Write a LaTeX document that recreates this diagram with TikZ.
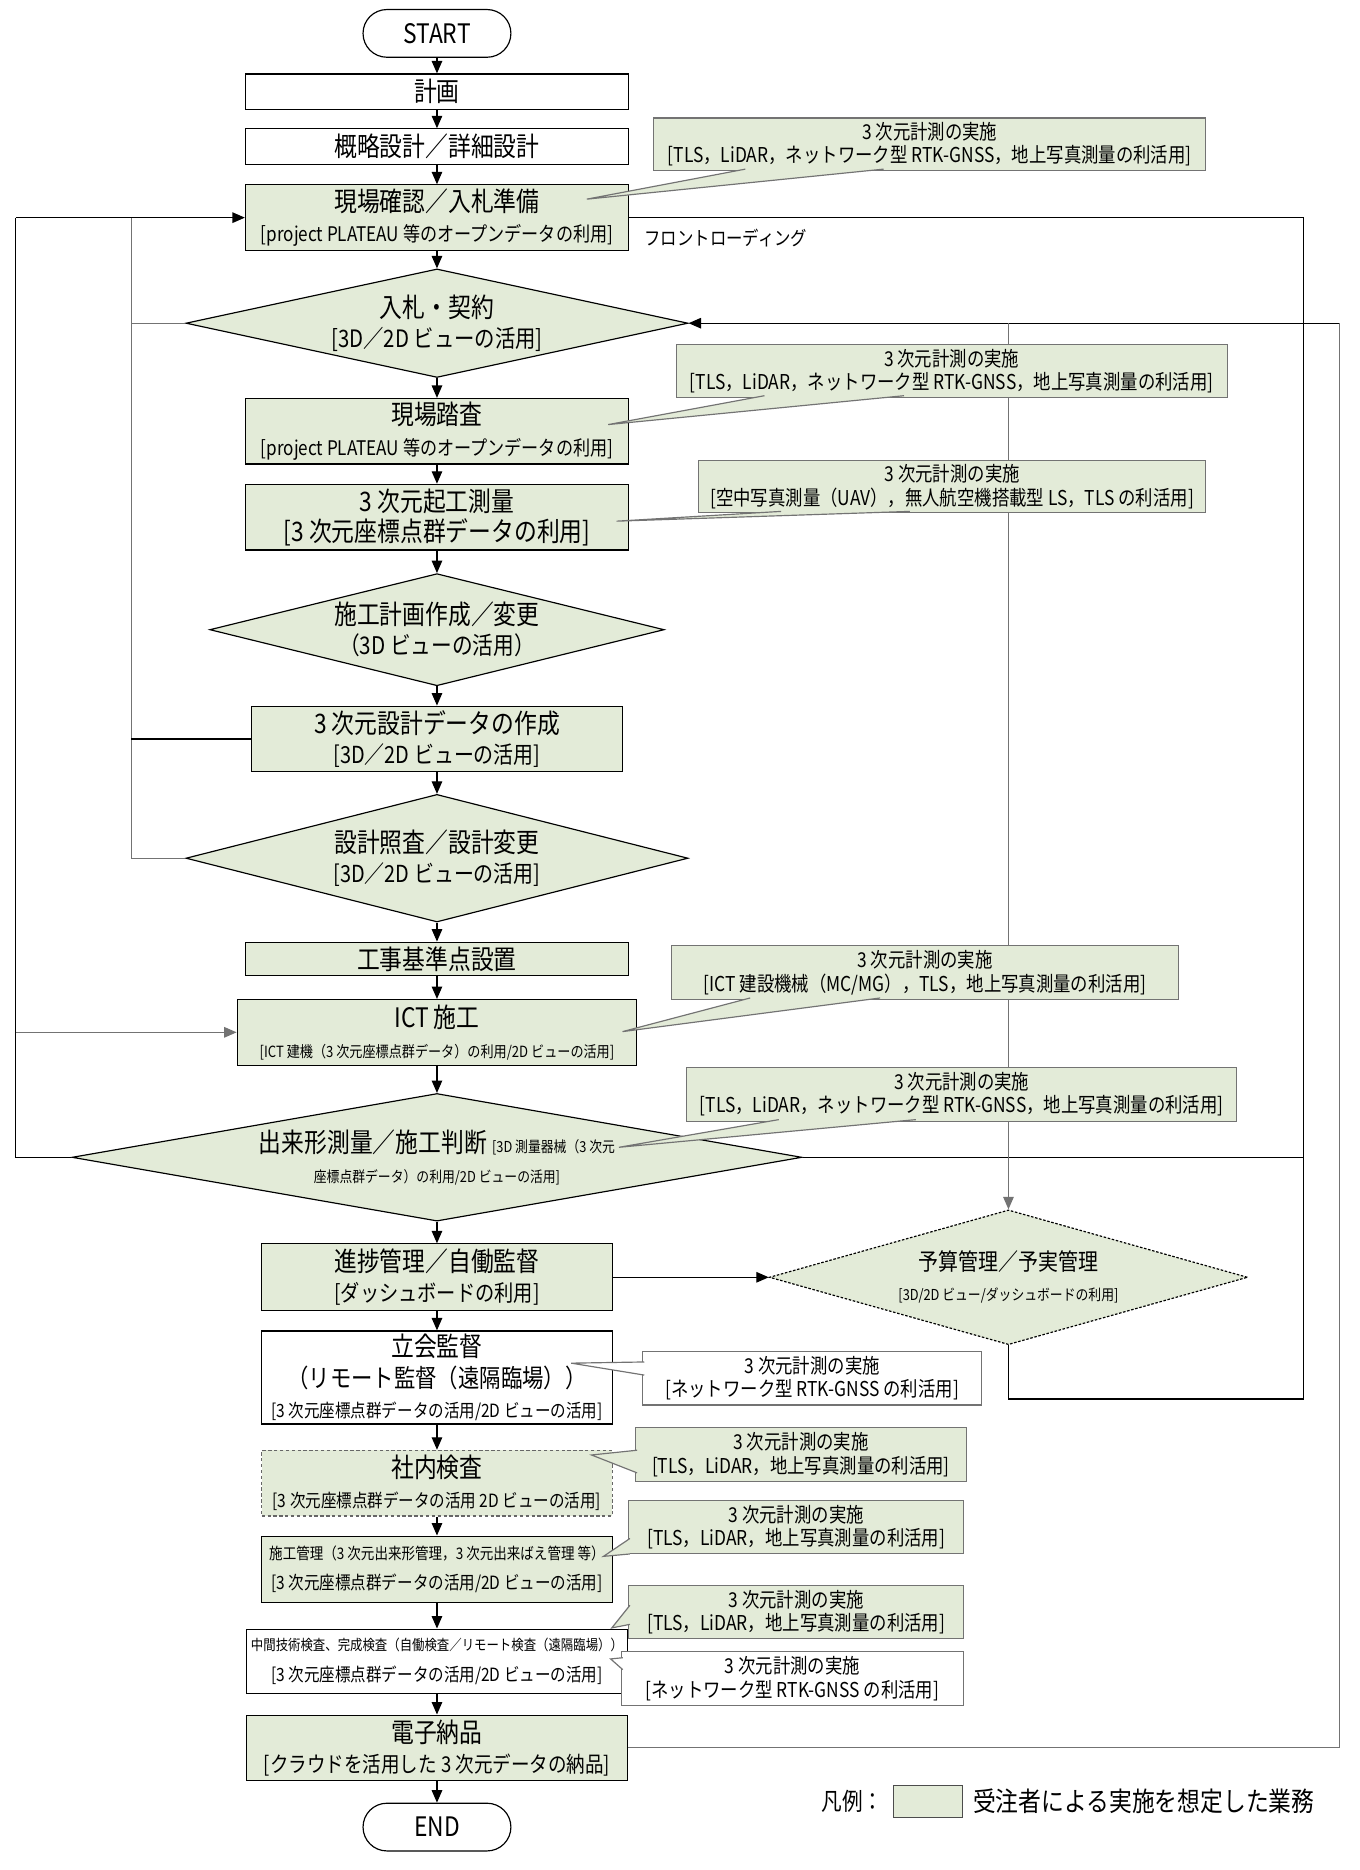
\documentclass[tikz,border=0pt]{standalone}
\usepackage{fontspec}
\setmainfont{Noto Sans CJK JP}[FakeStretch=0.85]
\usetikzlibrary{shapes.geometric,arrows.meta}
\definecolor{jgreen}{HTML}{E3EBD8}
\definecolor{cgray}{gray}{0.45}
\newcommand{\fsz}[1]{\fontsize{#1}{18}\selectfont}

\begin{document}
\begin{tikzpicture}[line width=0.7pt,
  box/.style={draw, fill=jgreen, align=center, inner sep=1pt, font=\fsz{16}},
  wbox/.style={box, fill=white},
  dia/.style={draw, fill=jgreen, diamond, inner sep=0pt, align=center, font=\fsz{16}},
  term/.style={draw, rounded corners=0.5cm, minimum width=3.1cm, minimum height=1.0cm, font=\fsz{16}},
  call/.style={draw=cgray, fill=jgreen, align=center, inner sep=1pt, minimum height=1.1cm, font=\fontsize{12.2}{14}\selectfont},
  wcall/.style={call, fill=white},
  tipfill/.style={fill=jgreen},
  tipline/.style={draw=cgray},
  loopline/.style={draw=black!55},
  arr/.style={-{Triangle[length=2.6mm,width=2.2mm]}}]
\useasboundingbox (0,0) rectangle (28.5,-39.2);

% main column
\node[term] (start) at (9.16,-0.70) {START};
\node[wbox, minimum width=8.03cm, minimum height=0.75cm] (keikaku) at (9.16,-1.925) {計画};
\node[wbox, minimum width=8.03cm, minimum height=0.75cm] (gairyaku) at (9.16,-3.075) {概略設計／詳細設計};
\node[box, minimum width=8.03cm, minimum height=1.375cm] (kakunin) at (9.16,-4.5625) {現場確認／入札準備\\{\fsz{12}[project PLATEAU 等のオープンデータの利用]}};
\node[dia, aspect=4.6, minimum width=10.525cm, minimum height=2.275cm] (nyusatsu) at (9.16,-6.775) {入札・契約\\{\fsz{14.3}[3D／2D ビューの活用]}};
\node[box, minimum width=8.03cm, minimum height=1.375cm] (tosa) at (9.16,-9.04) {現場踏査\\{\fsz{12}[project PLATEAU 等のオープンデータの利用]}};
\node[box, minimum width=8.03cm, minimum height=1.375cm] (kiko) at (9.16,-10.84) {3 次元起工測量\\{\fsz{16}[3 次元座標点群データの利用]}};
\node[dia, aspect=4.05, minimum width=9.525cm, minimum height=2.35cm] (sekokei) at (9.16,-13.2) {施工計画作成／変更\\{\fsz{14.5}（3D ビューの活用）}};
\node[box, minimum width=7.775cm, minimum height=1.375cm] (sekkei) at (9.16,-15.49) {3 次元設計データの作成\\{\fsz{14}[3D／2D ビューの活用]}};
\node[dia, aspect=3.9, minimum width=10.525cm, minimum height=2.675cm] (shosa) at (9.16,-17.99) {設計照査／設計変更\\{\fsz{14}[3D／2D ビューの活用]}};
\node[box, minimum width=8.03cm, minimum height=0.7cm] (kijun) at (9.16,-20.1) {工事基準点設置};
\node[box, minimum width=8.375cm, minimum height=1.375cm] (ict) at (9.16,-21.64) {ICT 施工\\{\fsz{9.2}[ICT 建機（3 次元座標点群データ）の利用/2D ビューの活用]}};
\node[dia, aspect=5.7, minimum width=15.3cm, minimum height=2.675cm] (dekigata) at (9.16,-24.26) {出来形測量／施工判断 {\fsz{9}[3D 測量器械（3 次元}\\{\fsz{9}座標点群データ）の利用/2D ビューの活用]}};
\node[box, minimum width=7.35cm, minimum height=1.4cm] (shinchoku) at (9.16,-26.775) {進捗管理／自働監督\\{\fsz{13.5}[ダッシュボードの利用]}};
\node[wbox, minimum width=7.35cm, minimum height=1.95cm] (tachiai) at (9.16,-28.875) {立会監督\\{\fsz{15}（リモート監督（遠隔臨場））}\\{\fsz{10.9}[3 次元座標点群データの活用/2D ビューの活用]}};
\node[box, draw=black!60, dash pattern=on 2pt off 1.5pt, minimum width=7.35cm, minimum height=1.375cm] (shanai) at (9.16,-31.09) {社内検査\\{\fsz{10.9}[3 次元座標点群データの活用 2D ビューの活用]}};
\node[box, minimum width=7.35cm, minimum height=1.4cm] (sekokanri) at (9.16,-32.9) {{\fsz{9.5}施工管理（3 次元出来形管理，3 次元出来ばえ管理 等）}\\{\fsz{10.9}[3 次元座標点群データの活用/2D ビューの活用]}};
\node[wbox, minimum width=7.975cm, minimum height=1.35cm] (chukan) at (9.16,-34.825) {{\fsz{8.7}中間技術検査、完成検査（自働検査／リモート検査（遠隔臨場））}\\{\fsz{10.9}[3 次元座標点群データの活用/2D ビューの活用]}};
\node[box, minimum width=8cm, minimum height=1.375cm] (denshi) at (9.16,-36.64) {電子納品\\{\fsz{13}[クラウドを活用した 3 次元データの納品]}};
\node[term] (fin) at (9.16,-38.3) {END};
\node[dia, dash pattern=on 1.5pt off 1pt, aspect=3.55, minimum width=10.025cm, minimum height=2.825cm] (yosan) at (21.14,-26.775) {{\fsz{14}予算管理／予実管理}\\{\fsz{9}[3D/2D ビュー/ダッシュボードの利用]}};

% flow
\foreach \a/\b in {start/keikaku, keikaku/gairyaku, gairyaku/kakunin, kakunin/nyusatsu, nyusatsu/tosa, tosa/kiko, kiko/sekokei, sekokei/sekkei, sekkei/shosa, shosa/kijun, kijun/ict, ict/dekigata, dekigata/shinchoku, shinchoku/tachiai, tachiai/shanai, shanai/sekokanri, sekokanri/chukan, chukan/denshi, denshi/fin}
  \draw[arr] (\a) -- (\b);

% left feedback
\coordinate (lin) at (2.75,-4.5625);
\coordinate (lout) at (0.325,-4.5625);
\draw[loopline] (shosa.west) -| (lin);
\draw[arr] (lout) -- (kakunin.west);
\draw[loopline] (nyusatsu.west) -- (nyusatsu.west -| lin);
\draw (sekkei.west) -- (sekkei.west -| lin);
\draw (dekigata.west) -| (lout);
\draw[arr, loopline] (ict.west -| lout) -- (ict.west);

% right loops
\draw (kakunin.east) -| (27.325,-24.26) -- (dekigata.east);
\draw (yosan.south) |- (27.325,-29.325) -- (27.325,-24.26);
\draw[loopline] (denshi.east) -| (28.075,-6.775);
\draw[arr] (28.075,-6.775) -- (nyusatsu.east);
\draw[arr, loopline] (yosan.north |- nyusatsu.east) -- (yosan.north);
\draw[arr] (shinchoku.east) -- (yosan.west);

% callouts
\node[call, minimum width=11.575cm] (m1) at (19.49,-3.025) {3 次元計測の実施\\{[TLS，LiDAR，ネットワーク型 RTK-GNSS，地上写真測量の利活用]}};
\fill[tipfill] (15.625,-3.545) -- (12.3,-4.175) -- (18.525,-3.545) -- cycle;
\draw[tipline] (15.625,-3.545) -- (12.3,-4.175) -- (18.525,-3.545);
\node[call, minimum width=11.55cm] (m2) at (19.95,-7.775) {3 次元計測の実施\\{[TLS，LiDAR，ネットワーク型 RTK-GNSS，地上写真測量の利活用]}};
\fill[tipfill] (16.025,-8.295) -- (12.75,-8.9) -- (18.95,-8.295) -- cycle;
\draw[tipline] (16.025,-8.295) -- (12.75,-8.9) -- (18.95,-8.295);
\node[call, minimum width=10.625cm] (m3) at (19.96,-10.2) {3 次元計測の実施\\{[空中写真測量（UAV），無人航空機搭載型 LS，TLS の利活用]}};
\fill[tipfill] (16.375,-10.72) -- (12.925,-10.925) -- (19.075,-10.72) -- cycle;
\draw[tipline] (16.375,-10.72) -- (12.925,-10.925) -- (19.075,-10.72);
\node[call, minimum width=10.625cm, minimum height=1.125cm] (m4) at (19.39,-20.39) {3 次元計測の実施\\{[ICT 建設機械（MC/MG），TLS，地上写真測量の利活用]}};
\fill[tipfill] (15.725,-20.92) -- (13.05,-21.625) -- (18.45,-20.92) -- cycle;
\draw[tipline] (15.725,-20.92) -- (13.05,-21.625) -- (18.45,-20.92);
\node[call, minimum width=11.525cm, minimum height=1.125cm] (m5) at (20.16,-22.94) {3 次元計測の実施\\{[TLS，LiDAR，ネットワーク型 RTK-GNSS，地上写真測量の利活用]}};
\fill[tipfill] (16.325,-23.47) -- (12.975,-24.05) -- (19.2,-23.47) -- cycle;
\draw[tipline] (16.325,-23.47) -- (12.975,-24.05) -- (19.2,-23.47);
\node[wcall, minimum width=7.1cm, minimum height=1.125cm] (m6) at (17.025,-28.89) {3 次元計測の実施\\{[ネットワーク型 RTK-GNSS の利活用]}};
\fill[white] (13.505,-28.55) -- (11.975,-28.575) -- (13.505,-28.825) -- cycle;
\draw[tipline] (13.505,-28.55) -- (11.975,-28.575) -- (13.505,-28.825);
\node[call, minimum width=6.925cm, minimum height=1.125cm] (m7) at (16.79,-30.49) {3 次元計測の実施\\{[TLS，LiDAR，地上写真測量の利活用]}};
\fill[tipfill] (13.355,-30.4) -- (12.4,-30.5) -- (13.355,-30.875) -- cycle;
\draw[tipline] (13.355,-30.4) -- (12.4,-30.5) -- (13.355,-30.875);
\node[call, minimum width=7.025cm, minimum height=1.125cm] (m8) at (16.69,-32.01) {3 次元計測の実施\\{[TLS，LiDAR，地上写真測量の利活用]}};
\fill[tipfill] (13.205,-32.25) -- (12.65,-32.625) -- (13.205,-32.575) -- cycle;
\draw[tipline] (13.205,-32.25) -- (12.65,-32.625) -- (13.205,-32.575);
\node[call, minimum width=7.025cm, minimum height=1.125cm] (m9) at (16.69,-33.79) {3 次元計測の実施\\{[TLS，LiDAR，地上写真測量の利活用]}};
\fill[tipfill] (13.205,-33.65) -- (12.825,-34.125) -- (13.205,-34.05) -- cycle;
\draw[tipline] (13.205,-33.65) -- (12.825,-34.125) -- (13.205,-34.05);
\node[wcall, minimum width=7.175cm, minimum height=1.125cm] (m10) at (16.61,-35.19) {3 次元計測の実施\\{[ネットワーク型 RTK-GNSS の利活用]}};
\fill[white] (13.055,-34.75) -- (12.8,-34.775) -- (13.055,-35.0) -- cycle;
\draw[tipline] (13.055,-34.75) -- (12.8,-34.775) -- (13.055,-35.0);

% labels
\node[anchor=west, inner sep=0pt, font=\fontsize{11.5}{14}\selectfont] (front) at (13.5,-5.0) {フロントローディング};
\node[draw=black!70, fill=jgreen, minimum width=1.45cm, minimum height=0.675cm] (legbox) at (19.45,-37.76) {};
\node[anchor=east, inner sep=0pt, font=\fsz{14.5}] (legkey) at ([xshift=-0.18cm]legbox.west) {凡例：};
\node[anchor=west, inner sep=0pt, font=\fsz{16}] (legtext) at ([xshift=0.2cm]legbox.east) {受注者による実施を想定した業務};
\end{tikzpicture}
\end{document}
